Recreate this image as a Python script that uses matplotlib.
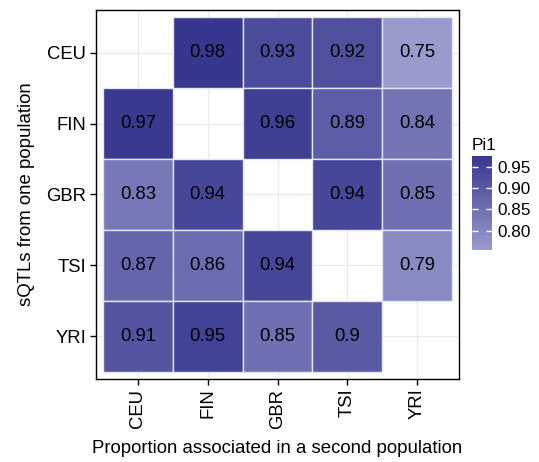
import numpy as np
import matplotlib
matplotlib.use('Agg')
import matplotlib.pyplot as plt
from matplotlib.colors import LinearSegmentedColormap, Normalize
from matplotlib.patches import Rectangle
import matplotlib.cm as cm

plt.rcParams['font.family'] = ['Liberation Sans', 'DejaVu Sans']

pops = ['CEU', 'FIN', 'GBR', 'TSI', 'YRI']
# rows: sQTLs from one population, cols: proportion in second population
pi1 = np.array([
    [np.nan, 0.98, 0.93, 0.92, 0.75],
    [0.97, np.nan, 0.96, 0.89, 0.84],
    [0.83, 0.94, np.nan, 0.94, 0.85],
    [0.87, 0.86, 0.94, np.nan, 0.79],
    [0.91, 0.95, 0.85, 0.90, np.nan],
])
cbar_ticks = [0.80, 0.85, 0.90, 0.95]

cmap = LinearSegmentedColormap.from_list('pi1', ['#9a9acd', '#37378f'])
norm = Normalize(vmin=0.755, vmax=0.975)

fig = plt.figure(figsize=(5.39, 4.62), dpi=100)
ax = fig.add_axes([96 / 539, 1 - 379 / 462, 363 / 539, 369 / 462])

n = len(pops)
for i in range(n):
    for j in range(n):
        v = pi1[i, j]
        if np.isnan(v):
            continue
        ax.add_patch(Rectangle((j + 0.5, i + 0.5), 1, 1, facecolor=cmap(norm(v)),
                               edgecolor='#e6e6f2', linewidth=1.0, zorder=2))
        ax.text(j + 1, i + 1, '%g' % v, ha='center', va='center',
                fontsize=13.3, color='black', zorder=3)

ax.set_xlim(0.4, n + 0.6)
ax.set_ylim(n + 0.6, 0.4)
ax.set_xticks(np.arange(1, n + 1))
ax.set_yticks(np.arange(1, n + 1))
ax.set_xticklabels(pops, rotation=90)
ax.set_yticklabels(pops)
ax.tick_params(length=4, width=1, color='black', labelsize=13.3, pad=3)
ax.grid(True, color='#ebebeb', lw=1, zorder=0)
ax.set_axisbelow(True)
for s in ax.spines.values():
    s.set_color('black')
    s.set_linewidth(1)

ax.set_xlabel('Proportion associated in a second population', fontsize=13.4, labelpad=8)
ax.set_ylabel('sQTLs from one population', fontsize=13.4, labelpad=8)

cax = fig.add_axes([472 / 539, 1 - 250 / 462, 20 / 539, 94 / 462])
cb = fig.colorbar(cm.ScalarMappable(norm=norm, cmap=cmap), cax=cax, ticks=cbar_ticks)
cb.outline.set_visible(False)
cax.tick_params(direction='in', length=4, width=1, color='white',
                left=True, right=True, labelsize=12.3, pad=4)
cax.set_yticklabels(['%.2f' % t for t in cbar_ticks])
fig.text(472 / 539, 1 - 145 / 462, 'Pi1', fontsize=12.3, ha='left', va='center')

fig.savefig('out.png', dpi=100)
